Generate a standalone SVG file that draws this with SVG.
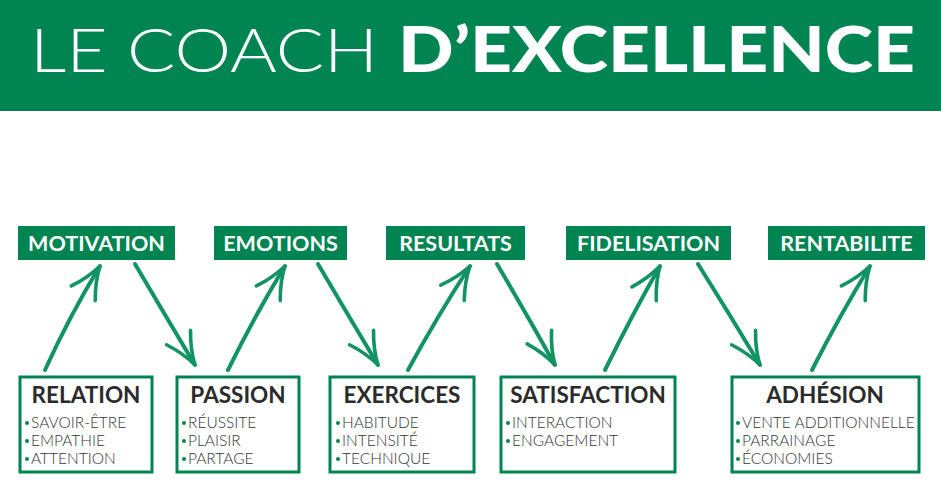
<svg xmlns="http://www.w3.org/2000/svg" width="941" height="491" viewBox="0 0 941 491">
<defs>
<style>
.tl{fill:#008452}
.tt{font-family:Lato,"Open Sans",sans-serif;font-weight:700;font-size:21.5px;fill:#fff;text-anchor:middle}
.bx{fill:#fff;stroke:#008452;stroke-width:3}
.bh{font-family:Lato,"Open Sans",sans-serif;font-weight:700;font-size:22.5px;fill:#2b2b2b;text-anchor:middle}
.it{font-family:Lato,"Open Sans",sans-serif;font-weight:300;font-size:15.5px;fill:#333}
.dot{fill:#008452}
.ar{stroke:#119363;stroke-width:4;fill:none;stroke-linecap:round;marker-end:url(#h)}
</style>
<marker id="h" viewBox="0 0 20 20" refX="18" refY="10" markerWidth="10" markerHeight="10" orient="auto" markerUnits="strokeWidth">
<path d="M2,3 Q10,8 18,10 Q10,12 2,17" fill="none" stroke="#119363" stroke-width="1.8" stroke-linecap="round"/>
</marker>
</defs>
<rect width="941" height="491" fill="#fff"/>
<g id="header">
<rect x="0" y="0" width="941" height="111" class="tl"/>
<text x="30" y="72" font-family="Lato,sans-serif" font-weight="300" font-size="62" fill="#fff" textLength="348" lengthAdjust="spacingAndGlyphs">LE COACH</text>
<text x="398" y="72" font-family="Lato,sans-serif" font-weight="900" font-size="62" fill="#fff" textLength="517" lengthAdjust="spacingAndGlyphs">D’EXCELLENCE</text>
</g>
<g id="connectors">
<path class="ar" d="M45,370 Q70,315 100,266"/>
<path class="ar" d="M135,264 Q165,315 195,365"/>
<path class="ar" d="M228,370 Q255,315 285,266"/>
<path class="ar" d="M318,264 Q348,315 378,365"/>
<path class="ar" d="M408,370 Q438,315 470,266"/>
<path class="ar" d="M497,264 Q527,315 555,365"/>
<path class="ar" d="M605,370 Q632,315 660,266"/>
<path class="ar" d="M698,264 Q730,315 760,365"/>
<path class="ar" d="M812,370 Q840,315 870,266"/>
</g>
<g id="motivation"><rect x="18" y="226" width="157" height="34" class="tl"/><text x="96.5" y="251" class="tt">MOTIVATION</text></g>
<g id="emotions"><rect x="214" y="226" width="133" height="34" class="tl"/><text x="280.5" y="251" class="tt">EMOTIONS</text></g>
<g id="resultats"><rect x="386" y="226" width="139" height="34" class="tl"/><text x="455.5" y="251" class="tt">RESULTATS</text></g>
<g id="fidelisation"><rect x="566" y="226" width="165" height="34" class="tl"/><text x="648.5" y="251" class="tt">FIDELISATION</text></g>
<g id="rentabilite"><rect x="768" y="226" width="157" height="34" class="tl"/><text x="846.5" y="251" class="tt">RENTABILITE</text></g>
<g id="relation"><rect x="20" y="377" width="132" height="95" class="bx"/><text x="86" y="403" class="bh">RELATION</text>
<circle cx="27" cy="423" r="2" class="dot"/><text x="31" y="428" class="it">SAVOIR-ÊTRE</text>
<circle cx="27" cy="441" r="2" class="dot"/><text x="31" y="446" class="it">EMPATHIE</text>
<circle cx="27" cy="459" r="2" class="dot"/><text x="31" y="464" class="it">ATTENTION</text></g>
<g id="passion"><rect x="177" y="377" width="122" height="95" class="bx"/><text x="238" y="403" class="bh">PASSION</text>
<circle cx="184" cy="423" r="2" class="dot"/><text x="188" y="428" class="it">RÉUSSITE</text>
<circle cx="184" cy="441" r="2" class="dot"/><text x="188" y="446" class="it">PLAISIR</text>
<circle cx="184" cy="459" r="2" class="dot"/><text x="188" y="464" class="it">PARTAGE</text></g>
<g id="exercices"><rect x="330" y="377" width="144" height="95" class="bx"/><text x="402" y="403" class="bh">EXERCICES</text>
<circle cx="338" cy="423" r="2" class="dot"/><text x="342" y="428" class="it">HABITUDE</text>
<circle cx="338" cy="441" r="2" class="dot"/><text x="342" y="446" class="it">INTENSITÉ</text>
<circle cx="338" cy="459" r="2" class="dot"/><text x="342" y="464" class="it">TECHNIQUE</text></g>
<g id="satisfaction"><rect x="501" y="377" width="174" height="95" class="bx"/><text x="588" y="403" class="bh">SATISFACTION</text>
<circle cx="508" cy="423" r="2" class="dot"/><text x="512" y="428" class="it">INTERACTION</text>
<circle cx="508" cy="441" r="2" class="dot"/><text x="512" y="446" class="it">ENGAGEMENT</text></g>
<g id="adhesion"><rect x="732" y="377" width="187" height="95" class="bx"/><text x="825" y="403" class="bh">ADHÉSION</text>
<circle cx="738" cy="423" r="2" class="dot"/><text x="742" y="428" class="it">VENTE ADDITIONNELLE</text>
<circle cx="738" cy="441" r="2" class="dot"/><text x="742" y="446" class="it">PARRAINAGE</text>
<circle cx="738" cy="459" r="2" class="dot"/><text x="742" y="464" class="it">ÉCONOMIES</text></g>
</svg>
